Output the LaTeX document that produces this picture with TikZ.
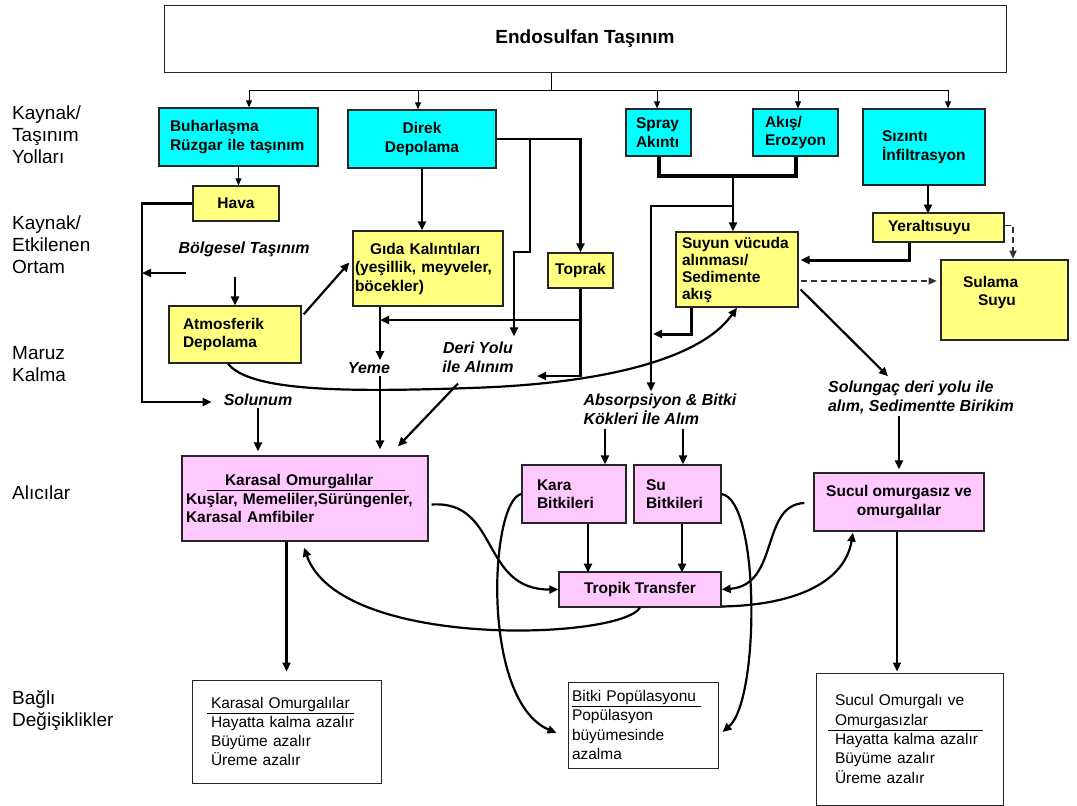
\documentclass[tikz,border=0pt]{standalone}
\usepackage{fontspec}
\setmainfont{Liberation Sans}
\usetikzlibrary{arrows.meta,calc}
\definecolor{srccyan}{HTML}{00FFFF}
\definecolor{envyellow}{HTML}{FFFF80}
\definecolor{recpink}{HTML}{FFC8FF}

\tikzset{
  box/.style={draw=black!85, line width=1.3pt, inner xsep=6pt, inner ysep=2pt,
    font=\fontsize{15.5}{18.5}\selectfont\bfseries},
  srcbox/.style={box, fill=srccyan},
  envbox/.style={box, fill=envyellow},
  recbox/.style={box, fill=recpink},
  effbox/.style={box, fill=white, line width=1pt, align=left,
    font=\fontsize{15.5}{19.3}\selectfont},
  route/.style={inner sep=2pt, font=\fontsize{16}{19}\selectfont\bfseries\itshape},
  rowlbl/.style={anchor=west, align=left, inner sep=0pt, font=\fontsize{19}{22}\selectfont},
  arr/.style={-{Triangle[length=9pt,width=8pt]}, line width=2.2pt},
  thinarr/.style={-{Triangle[length=7pt,width=6pt]}, line width=0.9pt},
  dasharr/.style={-{Triangle[length=8pt,width=7pt]}, line width=1.2pt, draw=black!80,
    dash pattern=on 6pt off 4pt},
}

\begin{document}
\begin{tikzpicture}[x=1pt,y=-1pt]
\useasboundingbox (0,0) rectangle (1077,806);

% row labels
\node[rowlbl] (rsrc) at (12,135) {Kaynak/\\Taşınım\\Yolları};
\node[rowlbl] (renv) at (12,245) {Kaynak/\\Etkilenen\\Ortam};
\node[rowlbl] (rexp) at (12,364) {Maruz\\Kalma};
\node[rowlbl] (rrec) at (12,493) {Alıcılar};
\node[rowlbl] (reff) at (12,711) {Bağlı\\Değişiklikler};

% title
\node[box, line width=0.9pt, font=\fontsize{19}{22}\selectfont\bfseries,
  minimum width=842pt, minimum height=67pt] (top) at (585,38.5) {Endosulfan Taşınım};

% sources / transport routes
\node[srcbox, minimum width=159pt, minimum height=58pt, inner xsep=11pt, text width=137pt, align=left] (buhar) at (238.5,137) {Buharlaşma\\Rüzgar ile taşınım};
\node[srcbox, minimum width=148pt, minimum height=58pt, align=center] (direk) at (422,139) {Direk\\Depolama};
\node[srcbox, minimum width=65pt, minimum height=47pt, inner xsep=10pt, text width=45pt, align=left] (spray) at (658.5,132.5) {Spray\\Akıntı};
\node[srcbox, minimum width=85pt, minimum height=47pt, inner xsep=12pt, text width=61pt, align=left] (akis) at (795.5,132.5) {Akış/\\Erozyon};
\node[srcbox, minimum width=122pt, minimum height=76pt, inner xsep=19pt, text width=84pt, align=left] (sizinti) at (924,147) {Sızıntı\\İnfiltrasyon};

% affected media
\node[envbox, minimum width=86pt, minimum height=35pt] (hava) at (236,203.5) {Hava};
\node[envbox, minimum width=132pt, minimum height=57pt, inner xsep=14pt, text width=104pt, align=left] (atmos) at (235,334.5) {Atmosferik\\Depolama};
\node[envbox, minimum width=150pt, minimum height=75pt, inner xsep=2pt, text width=146pt, align=left] (gida) at (428,268.5) {\hspace*{15pt}Gıda Kalıntıları\\(yeşillik, meyveler,\\böcekler)};
\node[envbox, minimum width=65pt, minimum height=35pt] (toprak) at (580.5,270.5) {Toprak};
\node[envbox, minimum width=122pt, minimum height=75pt, inner xsep=6pt, text width=110pt, align=left,
  font=\fontsize{15.5}{17}\selectfont\bfseries] (suyun) at (737,269.5) {Suyun vücuda\\alınması/\\Sedimente\\akış};
\node[envbox, minimum width=131pt, minimum height=29pt, inner xsep=15pt, text width=101pt, align=left] (yeralti) at (938.5,227.5) {Yeraltısuyu};
\node[envbox, line width=2.6pt, minimum width=127pt, minimum height=80pt, inner xsep=22pt, text width=83pt, align=left] (sulama) at (1004.5,300) {Sulama\\\hspace*{15pt}Suyu\\~};

% exposure routes
\node[route] (bolgesel) at (244,249) {Bölgesel Taşınım};
\node[route] (solunum) at (258,400) {Solunum};
\node[route] (yeme) at (369,368) {Yeme};
\node[route, align=center] (deri) at (478,357) {Deri Yolu\\ile Alınım};
\node[route, align=left] (absorp) at (660,409) {Absorpsiyon \& Bitki\\Kökleri İle Alım};
\node[route, align=left] (solungac) at (921,397) {Solungaç deri yolu ile\\alım, Sedimentte Birikim};

% receptors
\node[recbox, minimum width=246pt, minimum height=85pt, inner xsep=4pt, text width=238pt, align=left] (karasal) at (305,498.5) {\hspace*{21pt}\underline{\hspace{18pt}Karasal Omurgalılar\hspace{32pt}}\\Kuşlar, Memeliler,Sürüngenler,\\Karasal Amfibiler};
\node[recbox, minimum width=104pt, minimum height=58pt, inner xsep=15pt, text width=74pt, align=left] (kara) at (574,494) {Kara\\Bitkileri};
\node[recbox, minimum width=87pt, minimum height=58pt, inner xsep=12pt, text width=63pt, align=left] (su) at (677.5,494) {Su\\Bitkileri};
\node[recbox, minimum width=162pt, minimum height=35pt] (tropik) at (640,589.5) {Tropik Transfer};
\node[recbox, minimum width=170pt, minimum height=58pt, align=center] (sucul) at (899,502) {Sucul omurgasız ve\\omurgalılar};

% effects
\node[effbox, minimum width=189pt, minimum height=103pt, inner xsep=19pt, text width=151pt] (karasalD) at (286.5,731.5) {\hspace*{-4pt}\underline{\hspace{4pt}Karasal Omurgalılar\hspace{4pt}}\\Hayatta kalma azalır\\Büyüme azalır\\Üreme azalır};
\node[effbox, minimum width=150pt, minimum height=86pt, inner xsep=4pt, text width=142pt] (bitkiD) at (643,725) {\underline{Bitki Popülasyonu\hspace{5pt}}\\Popülasyon\\büyümesinde\\azalma};
\node[effbox, minimum width=187pt, minimum height=132pt, inner xsep=19pt, text width=149pt] (sucuD) at (909.5,739) {Sucul Omurgalı ve\\\hspace*{-7pt}\underline{\hspace{7pt}Omurgasızlar\hspace{55pt}}\\Hayatta kalma azalır\\Büyüme azalır\\Üreme azalır};

% from the title
\coordinate (split) at (551,90);
\draw[line width=0.9pt] (top.south -| split) -- (split);
\draw[thinarr] (split) -| ($(buhar.north)+(10.5,0)$);
\draw[thinarr] (split) -| ($(direk.north)+(-4,0)$);
\draw[thinarr] (split) -| ($(spray.north)+(-1.5,0)$);
\draw[thinarr] (split) -| ($(akis.north)+(2.5,0)$);
\draw[thinarr] (split) -| ($(sizinti.north)+(24,0)$);

% air
\draw[thinarr] (buhar.south) -- (buhar.south |- hava.north);
\coordinate (hl) at (142,402);
\draw[arr, shorten >=10pt] (hava.west) -| (hl) -- (hl -| solunum.west);
\coordinate (bl) at (186,273);
\draw[arr] (bl) -- (bl -| hl);
\draw[arr] ($(atmos.north)+(0,-28)$) -- (atmos.north);
\draw[arr] ($(atmos.north east)+(2,9)$) -- ($(gida.west)+(-3,-6)$);
\draw[arr] ($(atmos.south)+(-7,0)$) .. controls (250,392) and (350,392) .. (470,388)
  .. controls (600,384) and (700,360) .. (suyun.south);

% direct deposition
\draw[arr] (direk.south) -- (direk.south |- gida.north);
\draw[arr] (direk.east) -| (toprak.north);
\coordinate (dbr) at (530,139);
\draw[arr] (dbr) -- (530,252) -- (514,252) -- ($(deri.north)+(36,-3)$);
\coordinate (dt) at (537,376);
\draw[arr] (toprak.south) |- (dt);
\coordinate (gy) at (380,320);
\draw[arr] (toprak.south |- gy) -- (gy);
\draw[arr] (gida.south -| gy) -- (gy |- yeme.north);

% exposure to receptors
\draw[arr] ($(deri.south)+(-20,9)$) -- ($(karasal.north)+(93,-9)$);
\draw[arr] (gy |- yeme.south) -- ($(karasal.north -| gy)+(0,-6)$);
\draw[arr] (solunum.south) -- ($(solunum.south |- karasal.north)+(0,-4)$);
\draw[arr] ($(kara.north)+(31,-35)$) -- ($(kara.north)+(31,0)$);
\draw[arr] ($(su.north)+(5.5,-35)$) -- ($(su.north)+(5.5,0)$);
\draw[arr] (sucul.north |- solungac.south) -- ($(sucul.north)+(0,-3)$);

% water
\draw[line width=4pt] (spray.south) -- ++(0,19) -| (akis.south);
\coordinate (bk) at (733,175);
\draw[arr] (bk) -- (bk |- suyun.north);
\coordinate (ab) at (651,206);
\draw[arr] (bk |- ab) -- (ab) -- (ab |- absorp.north);
\draw[arr, line width=3pt] ($(suyun.south west)+(16,0)$) |- ($(ab)+(2,128)$);
\draw[arr] ($(sizinti.south)+(4,0)$) -- ($(sizinti.south)+(4,28)$);
\draw[arr, line width=3pt] ($(yeralti.south)+(-29.5,0)$) |- ($(suyun.east)+(2,-9.5)$);
\draw[dasharr] ($(yeralti.east)+(0,-2)$) -| ($(sulama.north)+(8.5,0)$);
\draw[dasharr] ($(suyun.east)+(2,11.5)$) -- ($(sulama.west)+(-3,-19)$);
\draw[arr] ($(suyun.east)+(2,20)$) -- ($(solungac.north)+(-33,-2)$);

% trophic transfer
\draw[arr] ($(kara.south)+(14,0)$) -- ($(kara.south)+(14,49)$);
\draw[arr] ($(su.south)+(4.5,0)$) -- ($(su.south)+(4.5,49)$);
\draw[arr] ($(karasal.east)+(3,6)$) .. controls (500,500) and (480,590) .. (tropik.west);
\draw[arr] (tropik.south) .. controls (620,640) and (340,650) .. ($(karasal.south)+(-1,6)$);
\draw[arr] ($(sucul.west)+(-9,1)$) .. controls (760,505) and (780,585) .. (tropik.east);
\draw[arr] ($(tropik.east)+(0,17)$) .. controls (800,605) and (845,580) .. ($(sucul.south)+(-46,1)$);

% effects
\draw[arr] (kara.west) .. controls (490,500) and (480,700) .. ($(bitkiD.west)+(-11,8)$);
\draw[arr] (su.east) .. controls (760,500) and (760,700) .. ($(bitkiD.east)+(4,7)$);
\draw[arr] (karasalD.north |- karasal.south) -- ($(karasalD.north)+(0,-8)$);
\draw[arr] ($(sucul.south)+(-2,0)$) -- ($(sucul.south |- sucuD.north)+(-2,-1)$);
\end{tikzpicture}
\end{document}
